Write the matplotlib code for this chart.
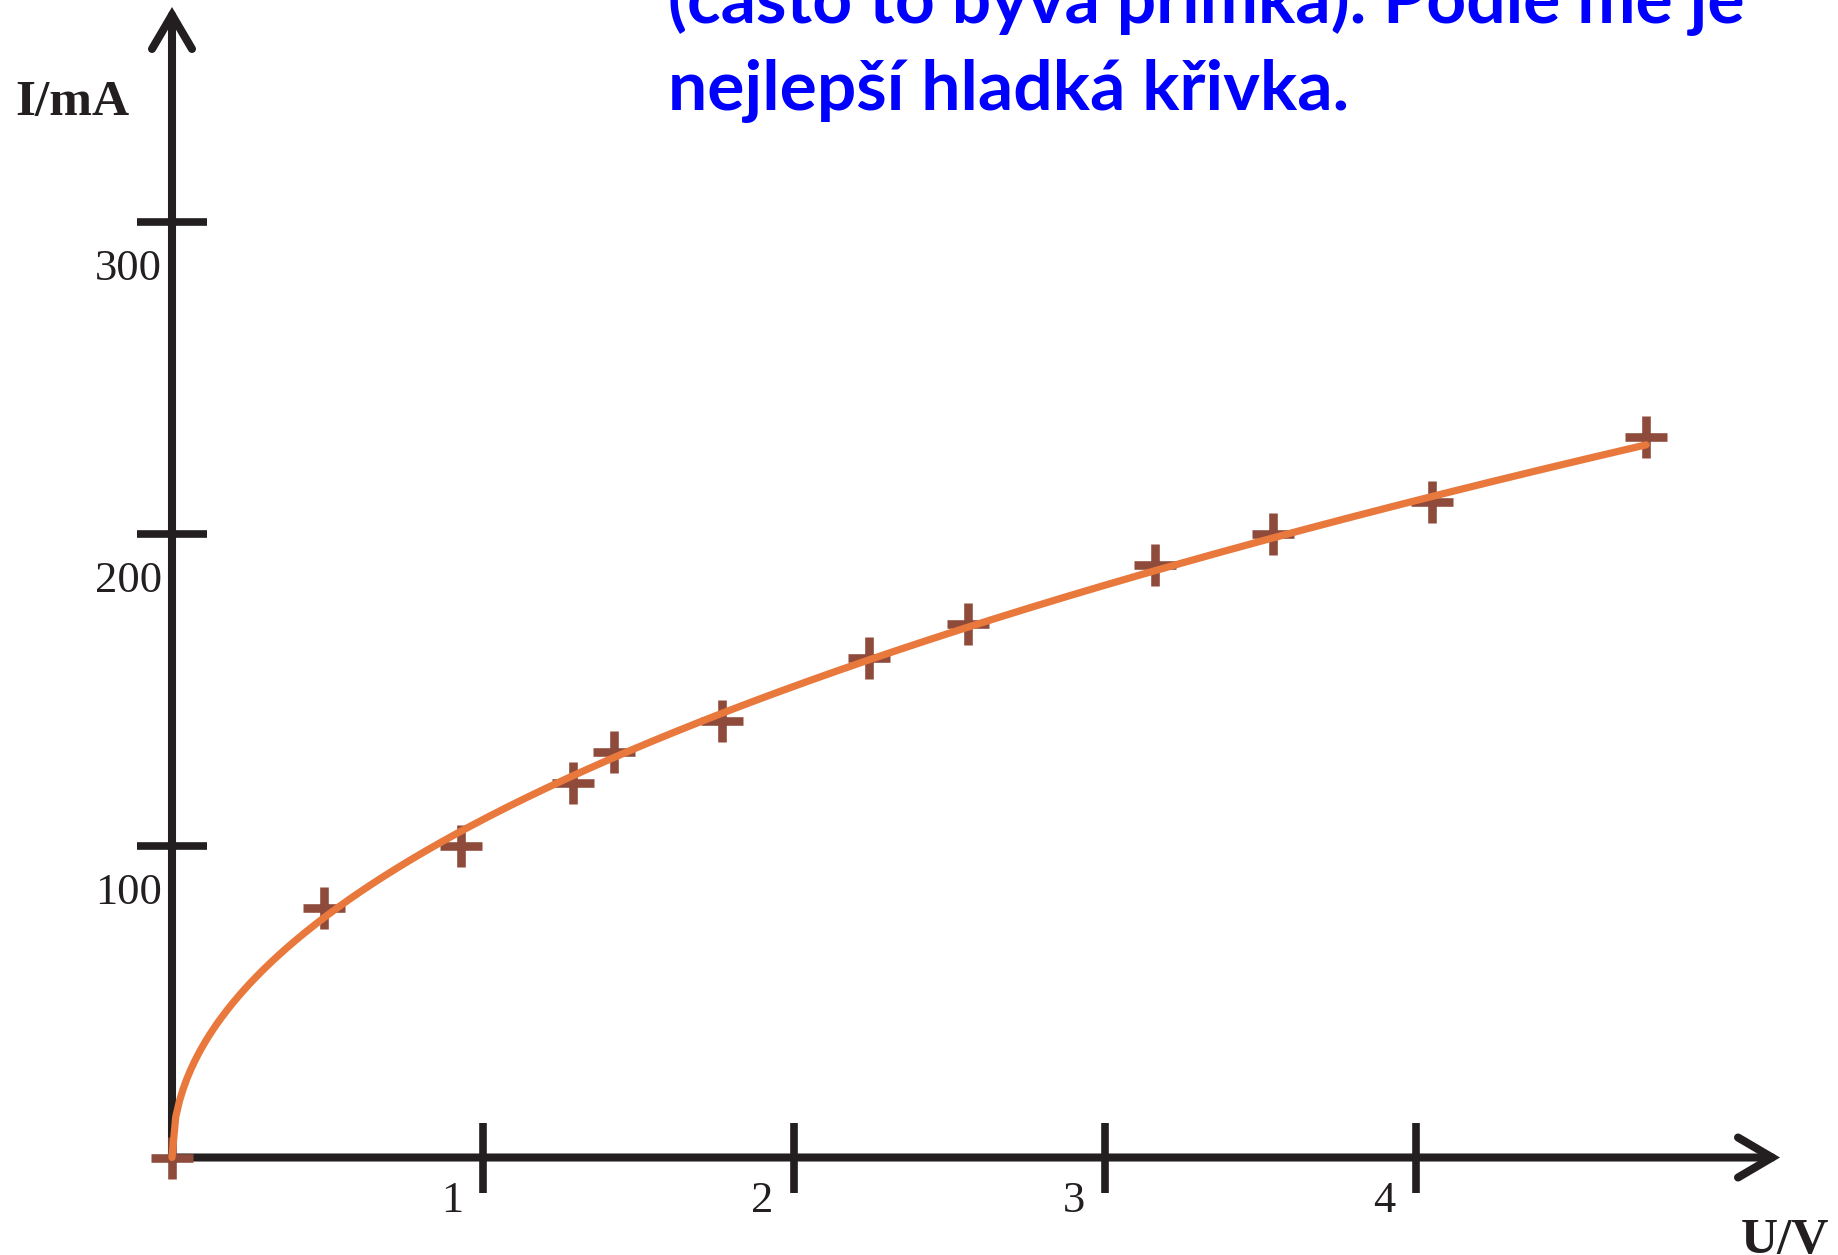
import matplotlib

matplotlib.use("Agg")
import matplotlib.pyplot as plt
import numpy as np
from matplotlib.patches import ArrowStyle

# measured points: voltage in V, current in mA
U_V = [0.0, 0.49, 0.93, 1.29, 1.42, 1.77, 2.24, 2.56, 3.16, 3.54, 4.05, 4.74]
I_MA = [0, 80, 100, 120, 130, 140, 160, 171, 190, 200, 210, 231]

X_TICKS = [1, 2, 3, 4]
Y_TICKS = [100, 200, 300]

NOTE_LINES = ["(často to bývá přímka). Podle mě je", "nejlepší hladká křivka."]

INK = "#231f20"
CURVE = "#e8783c"
POINT = "#8e4b3b"
NOTE = "#0000ff"

W, H = 1838, 1255
X0, Y0 = 172, 1157.5          # origin in pixels
PX_V, PX_MA = 311.0, 3.12      # pixels per volt / per milliampere

fig = plt.figure(figsize=(W / 100, H / 100), dpi=100)
ax = fig.add_axes([0, 0, 1, 1])
ax.axis("off")
ax.set_xlim(-X0 / PX_V, (W - X0) / PX_V)
ax.set_ylim(-(H - Y0) / PX_MA, Y0 / PX_MA)

# hand-drawn style axes with open arrow heads
head = ArrowStyle("->", head_length=24.5, head_width=14.4)
axis_props = dict(arrowstyle=head, mutation_scale=1, lw=5.8, color=INK,
                  shrinkA=0, shrinkB=0, joinstyle="miter")
ax.annotate("", xy=((1780 - X0) / PX_V, 0), xytext=(0, 0), arrowprops=axis_props)
ax.annotate("", xy=(0, (Y0 - 7) / PX_MA), xytext=(0, 0), arrowprops=axis_props)

ax.plot(X_TICKS, np.zeros(len(X_TICKS)), ls="none", marker="|", ms=51, mew=5.5, color=INK)
ax.plot(np.zeros(len(Y_TICKS)), Y_TICKS, ls="none", marker="_", ms=51, mew=5.5, color=INK)

tick_font = dict(family="Liberation Serif", fontsize=32, color=INK)
for t in X_TICKS:
    ax.annotate(str(t), xy=(t, 0), xytext=(-14.5, -39), textcoords="offset points",
                ha="right", va="baseline", **tick_font)
for t in Y_TICKS:
    ax.annotate(str(t), xy=(0, t), xytext=(-7, -42), textcoords="offset points",
                ha="right", va="baseline", **tick_font)

label_font = dict(family="Liberation Serif", fontsize=37, fontweight="bold", color=INK)
fig.text(15 / W, 1 - 115 / H, "I/mA", ha="left", va="baseline", **label_font)
fig.text(1741 / W, 1 - 1253 / H, "U/V", ha="left", va="baseline", **label_font)

# data points, then the power-law fit I = a * U**b on top
ax.plot(U_V, I_MA, ls="none", marker="+", ms=30, mew=6.2, color=POINT, zorder=3)
u = np.array(U_V)
i = np.array(I_MA, dtype=float)
nz = u > 0
b, ln_a = np.polyfit(np.log(u[nz]), np.log(i[nz]), 1)
uu = np.linspace(0, u.max(), 400)
ax.plot(uu, np.exp(ln_a) * uu ** b, color=CURVE, lw=5.2, solid_capstyle="round", zorder=4)

note_font = dict(family="Lato", fontsize=50, fontweight="bold", color=NOTE)
fig.text(668 / W, 1 - 23 / H, NOTE_LINES[0], ha="left", va="baseline", **note_font)
fig.text(668 / W, 1 - 110 / H, NOTE_LINES[1], ha="left", va="baseline", **note_font)

fig.savefig("out.png", dpi=100)
